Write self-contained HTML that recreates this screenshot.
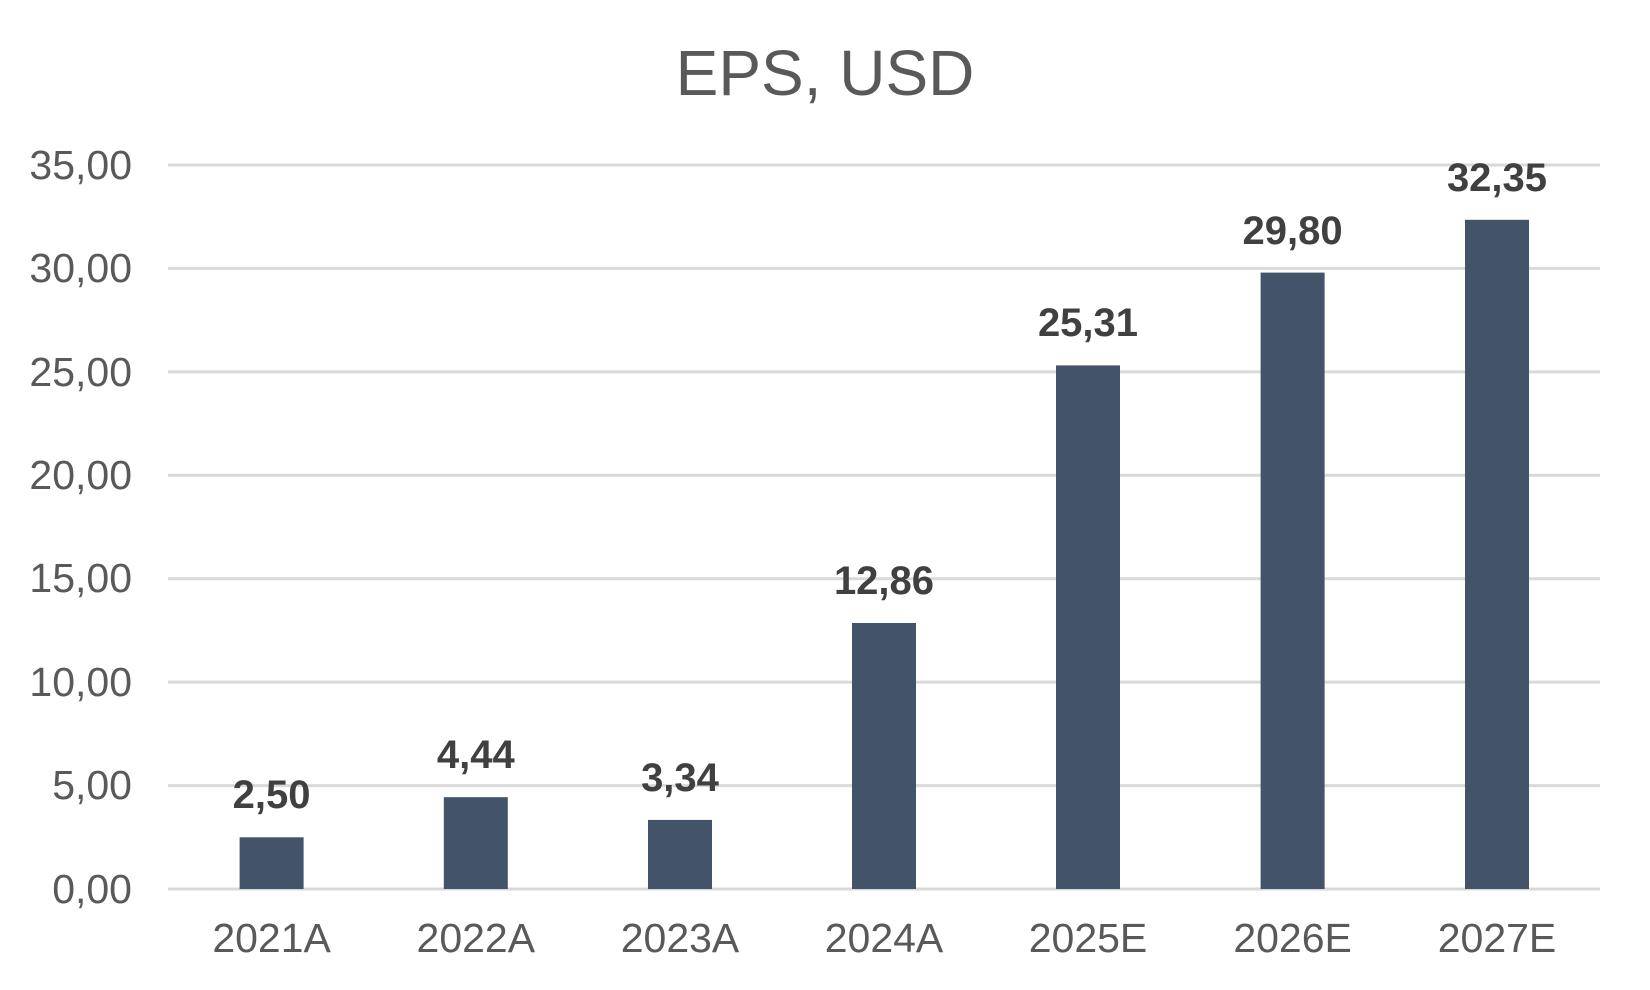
<!DOCTYPE html>
<html><head><meta charset="utf-8"><style>body{margin:0;background:#fff}svg{display:block}</style></head>
<body>
<svg width="1650" height="990" xmlns="http://www.w3.org/2000/svg" font-family="Liberation Sans, Arial, sans-serif">
<rect width="1650" height="990" fill="#fff"/>
<text x="825" y="95" text-anchor="middle" font-size="64" fill="#595959">EPS, USD</text>
<g stroke="#d9d9d9" stroke-width="3">
<line x1="168" x2="1600" y1="165" y2="165"/>
<line x1="168" x2="1600" y1="268.4" y2="268.4"/>
<line x1="168" x2="1600" y1="371.9" y2="371.9"/>
<line x1="168" x2="1600" y1="475.3" y2="475.3"/>
<line x1="168" x2="1600" y1="578.7" y2="578.7"/>
<line x1="168" x2="1600" y1="682.1" y2="682.1"/>
<line x1="168" x2="1600" y1="785.6" y2="785.6"/>
<line x1="168" x2="1600" y1="889" y2="889"/>
</g>
<g font-size="41" fill="#595959" text-anchor="end">
<text x="132" y="179">35,00</text>
<text x="132" y="282">30,00</text>
<text x="132" y="386">25,00</text>
<text x="132" y="489">20,00</text>
<text x="132" y="592">15,00</text>
<text x="132" y="696">10,00</text>
<text x="132" y="799">5,00</text>
<text x="132" y="903">0,00</text>
</g>
<g fill="#435369">
<rect x="239.6" y="837.3" width="64" height="51.7"/>
<rect x="443.8" y="797.2" width="64" height="91.8"/>
<rect x="648" y="819.9" width="64" height="69.1"/>
<rect x="852" y="623" width="64" height="266"/>
<rect x="1056" y="365.4" width="64" height="523.6"/>
<rect x="1260.6" y="272.6" width="64" height="616.4"/>
<rect x="1465" y="219.8" width="64" height="669.2"/>
</g>
<g font-size="40" font-weight="bold" fill="#404040" text-anchor="middle">
<text x="271.6" y="808">2,50</text>
<text x="475.8" y="768">4,44</text>
<text x="680" y="791">3,34</text>
<text x="884" y="594">12,86</text>
<text x="1088" y="336">25,31</text>
<text x="1292.6" y="244">29,80</text>
<text x="1497" y="191">32,35</text>
</g>
<g font-size="41" fill="#595959" text-anchor="middle">
<text x="271.6" y="952">2021A</text>
<text x="475.8" y="952">2022A</text>
<text x="680" y="952">2023A</text>
<text x="884" y="952">2024A</text>
<text x="1088" y="952">2025E</text>
<text x="1292.6" y="952">2026E</text>
<text x="1497" y="952">2027E</text>
</g>
</svg>
</body></html>
